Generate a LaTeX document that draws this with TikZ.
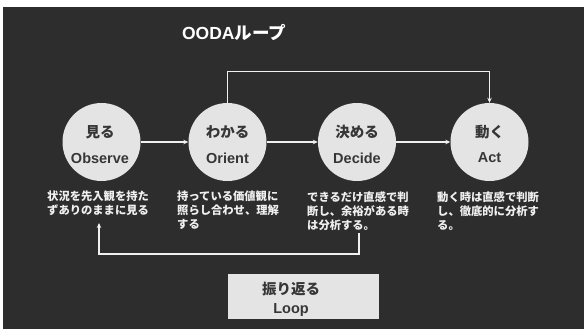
\documentclass[tikz,border=0pt]{standalone}
\usepackage{fontspec}
\setmainfont{Liberation Sans}
\newfontfamily\jp{Noto Sans CJK JP}
\usetikzlibrary{arrows.meta}
\definecolor{bg}{HTML}{2D2D2D}
\definecolor{disc}{HTML}{E4E4E4}
\definecolor{ink}{HTML}{363636}
\definecolor{wire}{HTML}{F0F0F0}
\begin{document}
\begin{tikzpicture}[x=1pt,y=-1pt,
  stage/.style={circle,fill=disc,draw=none,minimum size=78pt,inner sep=0},
  jlabel/.style={text=ink,font=\jp\bfseries\fontsize{14.5}{16}\selectfont,inner sep=0},
  elabel/.style={text=ink,font=\bfseries\fontsize{14.5}{16}\selectfont,inner sep=0},
  desc/.style={text=wire,font=\jp\bfseries\fontsize{11.3}{14}\selectfont,align=left,anchor=north west,inner sep=0},
  flow/.style={draw=wire,line width=1.3pt,-{Stealth[length=5pt,width=4.5pt]}}]
\useasboundingbox (0,0) rectangle (584,329);
\fill[white] (0,0) rectangle (584,329);
\fill[bg] (3,7) rectangle (584,329);
\node[text=white,font=\bfseries\fontsize{17.5}{20}\selectfont,inner sep=0] (title) at (234,33) {OODA{\jp ループ}};
\node[stage] (o) at (101.5,142) {};
\node[stage] (r) at (227.5,142) {};
\node[stage] (d) at (357,142) {};
\node[stage] (a) at (489.5,142) {};
\node[jlabel] (oj) at (100,132) {見る};
\node[elabel] (oe) at (100,158) {Observe};
\node[jlabel] (rj) at (227.5,132) {わかる};
\node[elabel] (re) at (227.5,158) {Orient};
\node[jlabel] (dj) at (357,132) {決める};
\node[elabel] (de) at (357,158) {Decide};
\node[jlabel] (aj) at (489.5,132) {動く};
\node[elabel] (ae) at (489.5,158) {Act};
\node[desc] (od) at (47,191) {状況を先入観を持た\\ずありのままに見る};
\node[desc] (rd) at (177,191) {持っている価値観に\\照らし合わせ、理解\\する};
\node[desc] (dd) at (307,192) {できるだけ直感で判\\断し、余裕がある時\\は分析する。};
\node[desc] (ad) at (437,192) {動く時は直感で判断\\し、徹底的に分析す\\る。};
\draw[flow] (o) -- (r);
\draw[flow] (r) -- (d);
\draw[flow] (d) -- (a);
\draw[flow] (r.north) -- ++(0,-31) -| (a.north);
\coordinate (ls) at (359,233);
\coordinate (le) at (99,223);
\draw[flow] (ls) -- ++(0,21) -| (le);
\node[fill=disc,minimum width=151pt,minimum height=45pt,inner sep=0] (loop) at (303.5,296.5) {};
\node[jlabel] (lj) at (291,289) {振り返る};
\node[elabel] (le2) at (291,310) {Loop};
\end{tikzpicture}
\end{document}
